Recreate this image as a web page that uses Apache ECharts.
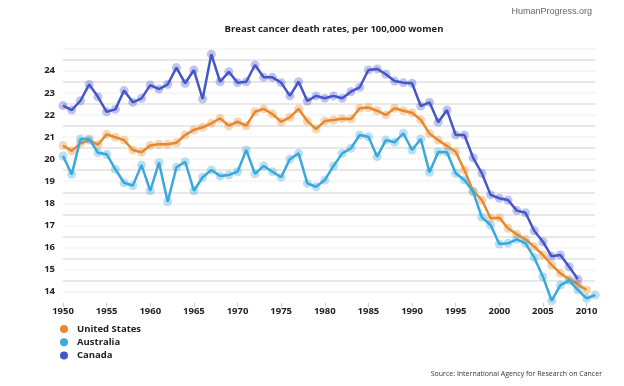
<!DOCTYPE html>
<html><head><meta charset="utf-8">
<script src="https://cdn.jsdelivr.net/npm/echarts@6/dist/echarts.min.js"></script>
<style>html,body{margin:0;padding:0;background:#fff}#c{width:624px;height:386px}</style>
</head><body><div id="c"></div>
<script>
const usYears = [1950,1951,1952,1953,1954,1955,1956,1957,1958,1959,1960,1961,1962,1963,1964,1965,1966,1967,1968,1969,1970,1971,1972,1973,1974,1975,1976,1977,1978,1979,1980,1981,1982,1983,1984,1985,1986,1987,1988,1989,1990,1991,1992,1993,1994,1995,1996,1997,1998,1999,2000,2001,2002,2003,2004,2005,2006,2007,2008,2009,2010];
const usValues = [20.61,20.37,20.71,20.85,20.65,21.12,20.99,20.86,20.41,20.31,20.62,20.67,20.67,20.74,21.09,21.32,21.44,21.62,21.85,21.51,21.69,21.51,22.14,22.27,22.04,21.69,21.89,22.27,21.72,21.36,21.72,21.77,21.83,21.81,22.30,22.33,22.19,22.00,22.30,22.19,22.10,21.78,21.15,20.86,20.59,20.33,19.51,18.55,18.15,17.32,17.35,16.87,16.60,16.37,16.04,15.66,15.21,14.83,14.56,14.33,14.08];
const auYears = [1950,1951,1952,1953,1954,1955,1956,1957,1958,1959,1960,1961,1962,1963,1964,1965,1966,1967,1968,1969,1970,1971,1972,1973,1974,1975,1976,1977,1978,1979,1980,1981,1982,1983,1984,1985,1986,1987,1988,1989,1990,1991,1992,1993,1994,1995,1996,1997,1998,1999,2000,2001,2002,2003,2004,2005,2006,2007,2008,2009,2010,2011];
const auValues = [20.14,19.31,20.91,20.91,20.29,20.22,19.54,18.93,18.80,19.73,18.56,19.84,18.07,19.63,19.88,18.57,19.18,19.51,19.24,19.28,19.43,20.41,19.33,19.69,19.43,19.18,20.00,20.26,18.90,18.75,19.05,19.69,20.26,20.49,21.09,21.01,20.11,20.86,20.76,21.17,20.41,20.91,19.40,20.32,20.31,19.36,19.05,18.52,17.37,17.02,16.16,16.19,16.37,16.19,15.55,14.68,13.59,14.30,14.50,14.08,13.70,13.85];
const caYears = [1950,1951,1952,1953,1954,1955,1956,1957,1958,1959,1960,1961,1962,1963,1964,1965,1966,1967,1968,1969,1970,1971,1972,1973,1974,1975,1976,1977,1978,1979,1980,1981,1982,1983,1984,1985,1986,1987,1988,1989,1990,1991,1992,1993,1994,1995,1996,1997,1998,1999,2000,2001,2002,2003,2004,2005,2006,2007,2008,2009];
const caValues = [22.42,22.22,22.64,23.38,22.82,22.14,22.25,23.10,22.57,22.75,23.35,23.17,23.38,24.14,23.43,24.03,22.72,24.74,23.50,23.95,23.46,23.50,24.26,23.70,23.70,23.46,22.86,23.50,22.63,22.86,22.75,22.86,22.75,23.05,23.25,24.03,24.08,23.84,23.53,23.46,23.43,22.40,22.57,21.67,22.22,21.09,21.09,20.06,19.36,18.38,18.23,18.15,17.67,17.57,16.76,16.26,15.60,15.66,15.13,14.56];
const xTickLabels = [1950,1955,1960,1965,1970,1975,1980,1985,1990,1995,2000,2005,2010];
const yTickLabels = [14,15,16,17,18,19,20,21,22,23,24];
const seriesNames = ['United States','Australia','Canada'];

const colors = ['#e8892d','#3aa8dc','#4556cb'];
const halos = ['rgba(232,137,45,0.35)','rgba(58,168,220,0.35)','rgba(69,86,203,0.35)'];
const font = '"Open Sans", "DejaVu Sans", sans-serif';

function pairs(xs, ys){ return xs.map((x,i)=>[x, ys[i]]); }
const dataSets = [pairs(usYears,usValues), pairs(auYears,auValues), pairs(caYears,caValues)];

const chart = echarts.init(document.getElementById('c'), null, {renderer:'canvas'});
chart.setOption({
  animation:false,
  backgroundColor:'#fff',
  title:{
    text:'Breast cancer death rates, per 100,000 women',
    left:329, top:19, textAlign:'center',
    textStyle:{fontFamily:font, fontSize:9.5, fontWeight:'bold', color:'#222'}
  },
  graphic:[
    {type:'text', right:32, top:7, style:{text:'HumanProgress.org', font:'9px "Liberation Sans", Arial, sans-serif', fill:'#666'}},
    {type:'text', right:22, top:370, style:{text:'Source: International Agency for Research on Cancer', font:'7px "Open Sans", sans-serif', fill:'#333'}}
  ],
  legend:{
    orient:'vertical', left:55, top:319,
    icon:'circle', itemWidth:8, itemHeight:8, itemGap:3.3,
    textStyle:{fontFamily:font, fontSize:9.5, fontWeight:'bold', color:'#222', padding:[0,0,0,4]},
    data: seriesNames.map((n,i)=>({name:n, itemStyle:{color:colors[i], opacity:1}}))
  },
  grid:{left:63, right:28.7, top:48.6, bottom:83.25, containLabel:false},
  xAxis:{
    type:'value', min:1950, max:2011, interval:5,
    axisLine:{show:false},
    axisTick:{show:true, length:4, lineStyle:{color:'#ccc'}, customValues:xTickLabels},
    axisLabel:{fontFamily:font, fontSize:9.5, fontWeight:'bold', color:'#222', margin:4, customValues:xTickLabels, formatter:v=>String(v)},
    splitLine:{show:false}
  },
  yAxis:{
    type:'value', min:13.5, max:25, interval:0.5,
    axisLine:{show:false}, axisTick:{show:false},
    axisLabel:{fontFamily:font, fontSize:9.5, fontWeight:'bold', color:'#222', margin:8, customValues:yTickLabels, formatter:v=>String(v)},
    splitLine:{show:true, showMinLine:false, lineStyle:{color:['#f4f4f4','#e0e0e0'], width:1.5}}
  },
  series: seriesNames.map((n,i)=>({
    name:n, type:'line', data:dataSets[i],
    symbol:'circle', symbolSize:9, showSymbol:true,
    lineStyle:{color:colors[i], width:2.5},
    itemStyle:{color:halos[i], borderWidth:0},
    z: i===1?3:(i===2?4:2)
  }))
});
</script></body></html>
